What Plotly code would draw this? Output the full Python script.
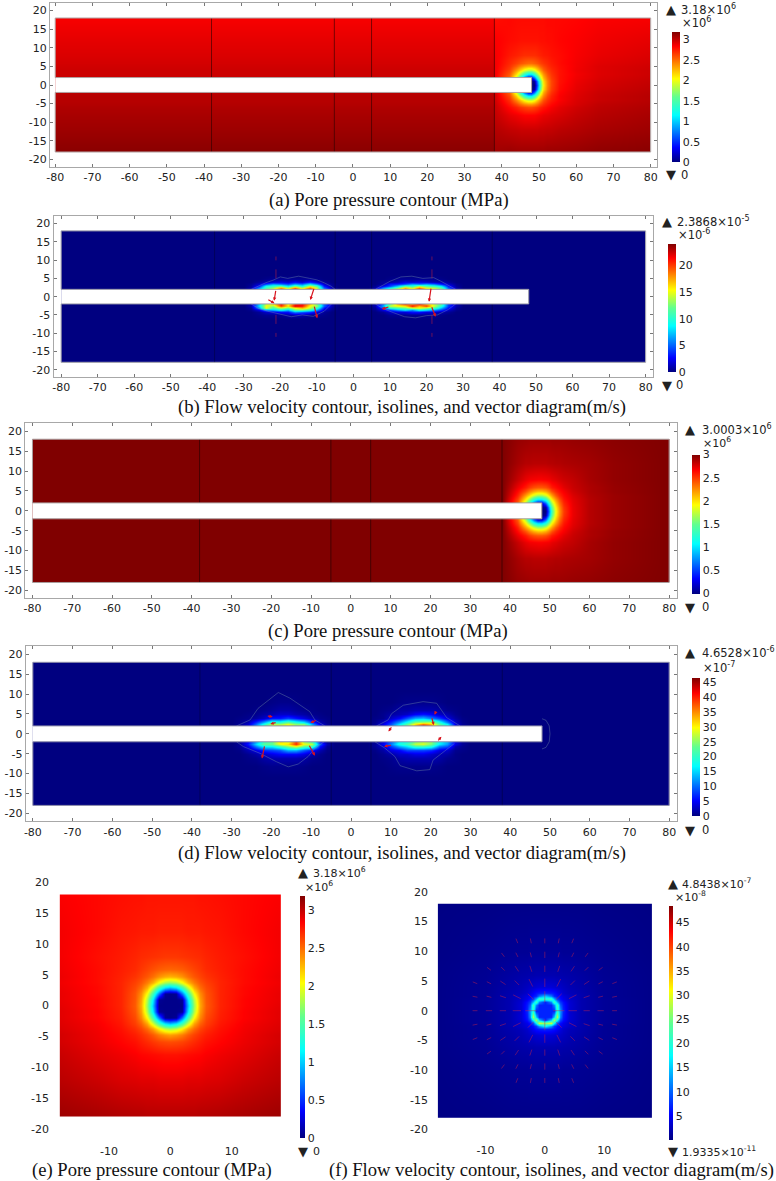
import math
import plotly.graph_objects as go

W, H = 776, 1181
JET = [[0, "#000080"], [0.11, "#0000ff"], [0.36, "#00ffff"], [0.5, "#60ff90"], [0.64, "#ffff00"], [0.89, "#ff0000"], [1, "#800000"]]
TICK = "DejaVu Sans"
SERIF = "Liberation Serif"
CAPTION = 18.6

LONG_X_TICKS = list(range(-80, 81, 10))
LONG_Y_TICKS = list(range(-20, 21, 5))
SQ_X_TICKS = [-10, 0, 10]
JOINTS = [-38, -5, 5, 38]
TUNNEL_END = 48

# (a) pore pressure, 1e6 Pa
A_X = [-80, 38, 38.01, 42, 44, 45, 46, 47, 48, 48.6, 49.4, 50.3, 51.2, 52.2, 53.2, 55.5, 60, 66, 80]
A_Y = [18, 12, 8, 6, 5, 4, 3, 2, 1, 0, -1, -2, -3, -4, -5, -6, -8, -12, -18]
A_Z = [
 [2.85,2.85,2.79,2.81,2.80,2.80,2.80,2.80,2.80,2.80,2.80,2.80,2.80,2.81,2.81,2.81,2.82,2.84,2.85],
 [2.90,2.90,2.84,2.80,2.79,2.78,2.78,2.78,2.78,2.78,2.78,2.79,2.79,2.80,2.80,2.82,2.84,2.87,2.90],
 [2.93,2.93,2.86,2.76,2.73,2.71,2.69,2.69,2.69,2.69,2.71,2.73,2.75,2.76,2.78,2.80,2.85,2.89,2.93],
 [2.95,2.95,2.87,2.71,2.63,2.57,2.53,2.50,2.50,2.53,2.57,2.63,2.67,2.71,2.75,2.80,2.86,2.91,2.95],
 [2.96,2.96,2.87,2.68,2.53,2.41,2.32,2.27,2.27,2.32,2.41,2.53,2.61,2.68,2.73,2.79,2.86,2.92,2.96],
 [2.97,2.97,2.87,2.63,2.35,2.16,1.96,1.84,1.84,1.96,2.16,2.35,2.52,2.63,2.70,2.78,2.87,2.92,2.97],
 [2.97,2.97,2.87,2.56,2.12,1.75,1.35,1.10,1.10,1.35,1.75,2.12,2.37,2.56,2.67,2.78,2.86,2.92,2.97],
 [2.98,2.98,2.88,2.49,1.85,1.24,0.63,0.23,0.23,0.63,1.24,1.85,2.25,2.49,2.64,2.78,2.87,2.93,2.98],
 [2.99,2.99,2.89,2.44,1.59,0.79,0.09,0,0,0.09,0.79,1.59,2.14,2.44,2.62,2.78,2.88,2.94,2.99],
 [3.00,3.00,2.92,2.43,1.50,0.65,0,0,0,0,0.65,1.50,2.10,2.43,2.62,2.79,2.89,2.95,3.00],
 [3.01,3.01,2.93,2.46,1.61,0.81,0.10,0,0,0.10,0.81,1.61,2.16,2.46,2.64,2.80,2.90,2.96,3.01],
 [3.02,3.02,2.95,2.53,1.89,1.28,0.67,0.27,0.27,0.67,1.28,1.89,2.29,2.53,2.68,2.82,2.91,2.97,3.02],
 [3.03,3.03,2.96,2.62,2.18,1.81,1.41,1.16,1.16,1.41,1.81,2.18,2.43,2.62,2.73,2.84,2.92,2.98,3.03],
 [3.03,3.03,2.97,2.69,2.41,2.22,2.02,1.90,1.90,2.02,2.22,2.41,2.58,2.69,2.76,2.84,2.93,2.98,3.03],
 [3.04,3.04,2.98,2.76,2.61,2.49,2.40,2.35,2.35,2.40,2.49,2.61,2.69,2.76,2.81,2.87,2.94,3.00,3.04],
 [3.05,3.05,2.99,2.81,2.73,2.67,2.63,2.60,2.60,2.63,2.67,2.73,2.77,2.81,2.85,2.90,2.96,3.01,3.05],
 [3.07,3.07,3.00,2.90,2.87,2.85,2.83,2.83,2.83,2.83,2.85,2.87,2.89,2.90,2.92,2.94,2.99,3.03,3.07],
 [3.10,3.10,3.04,3.00,2.99,2.98,2.98,2.98,2.98,2.98,2.98,2.99,2.99,3.00,3.00,3.02,3.04,3.07,3.10],
 [3.155,3.155,3.09,3.11,3.10,3.10,3.10,3.10,3.10,3.10,3.10,3.10,3.10,3.11,3.11,3.11,3.12,3.14,3.155],
]

# (c) pore pressure, 1e6 Pa; rows for y >= 0, mirrored below the tunnel
C_X = [-80, 38, 42, 44, 45, 46, 47, 48, 48.8, 49.6, 50.5, 51.4, 52.4, 53.4, 55.6, 60, 66, 80]
C_Y_HALF = [18, 12, 8, 6, 5, 4, 3, 2, 1, 0]
C_Z_HALF = [
 [3,3,2.94,2.93,2.92,2.92,2.92,2.92,2.92,2.92,2.93,2.93,2.93,2.93,2.94,2.95,2.97,3],
 [3,3,2.90,2.86,2.86,2.85,2.85,2.85,2.85,2.86,2.86,2.87,2.87,2.88,2.89,2.91,2.95,3],
 [3,3,2.82,2.73,2.70,2.69,2.68,2.68,2.69,2.70,2.73,2.75,2.78,2.80,2.83,2.90,2.95,3],
 [3,3,2.72,2.59,2.50,2.44,2.41,2.41,2.44,2.50,2.59,2.64,2.69,2.74,2.81,2.88,2.94,3],
 [3,3,2.65,2.43,2.28,2.17,2.10,2.10,2.17,2.28,2.43,2.55,2.63,2.69,2.79,2.88,2.94,3],
 [3,3,2.58,2.20,2.00,1.80,1.67,1.67,1.80,2.00,2.20,2.41,2.56,2.65,2.76,2.87,2.93,3],
 [3,3,2.48,1.95,1.60,1.25,1.03,1.03,1.25,1.60,1.95,2.22,2.45,2.61,2.74,2.86,2.93,3],
 [3,3,2.40,1.67,1.15,0.60,0.20,0.20,0.60,1.15,1.67,2.07,2.36,2.56,2.73,2.86,2.93,3],
 [3,3,2.32,1.45,0.75,0.10,0,0,0.10,0.75,1.45,1.95,2.28,2.52,2.72,2.86,2.93,3],
 [3,3,2.30,1.35,0.60,0,0,0,0,0.60,1.35,1.90,2.25,2.50,2.72,2.86,2.93,3],
]

# (b) flow velocity, 1e-6 m/s
BASE_X = [-80, 80]
BASE_Y = [18, -18]
BASE_Z = [[0, 0], [0, 0]]
B_Y = [6, 5, 4, 3.5, 3, 2.5, 2, -2, -2.5, -3, -3.5, -4, -5, -6]
BL_X = [-30, -28, -26, -24, -22, -20, -18, -16, -14, -12, -10, -8, -6, -4]
BL_Z = [
 [0,0,0,0,0,0,0,0,0,0,0,0,0,0],
 [0,0,0,.2,.4,.4,.4,.4,.4,.4,.2,0,0,0],
 [0,0,.5,1,1.5,2,1.5,2.5,1.5,3,1.5,.5,0,0],
 [0,.3,1.5,4,6,5,4,6,5,8,5,1.5,.3,0],
 [0,.5,3,9,10,11,8,12,9,14,11,3,.5,0],
 [0,1,6,11,13,18,14,19,14,19,14,5,1,0],
 [0,1,7,12,15,20,16,21,17,21,15,6,1,0],
 [0,1,7,14,16,21,15,20,21,17,12,5,1,0],
 [0,1,8,15,13,20,16,22,21,15,13,5,1,0],
 [0,.5,6,15,11,14,12,15,17,14,10,3,.5,0],
 [0,.3,2,6,7,9,7,12,12,10,6,1.5,.3,0],
 [0,0,.5,1.5,2,3,3,6,5,4,2,.5,0,0],
 [0,0,.2,.4,.4,.4,.8,1,1,.4,.4,.2,0,0],
 [0,0,0,0,0,0,0,0,0,0,0,0,0,0],
]
BR_X = [4, 6, 8, 10, 12, 14, 16, 18, 20, 22, 24, 26, 28, 30]
BR_Z = [
 [0,0,0,0,0,0,0,0,0,0,0,0,0,0],
 [0,0,0,.2,.4,.4,.4,.4,.4,.4,.2,0,0,0],
 [0,0,.5,.5,1,2,1.5,2,1.5,1,1,.5,0,0],
 [0,0,.5,3,3,4,6,5,6,5,3,1.5,.3,0],
 [0,.3,2,4,7,11,10,13,11,10,8,3,.5,0],
 [0,1,6,9,12,17,14,19,15,14,12,5,1,0],
 [0,1,7,12,17,20,17,21,18,15,11,5,1,0],
 [0,1,5,12,17,20,18,21,17,14,11,4,1,0],
 [0,1,7,14,15,16,21,17,20,14,10,4,1,0],
 [0,.5,4,10,11,12,14,15,13,11,7,3,.5,0],
 [0,.3,2,4,6,8,6,9,8,6,4,1.5,.3,0],
 [0,0,.5,1.5,2,2,3,3,2,2,1,.5,0,0],
 [0,0,0,.4,.4,.4,.4,.4,.4,.4,.2,0,0,0],
 [0,0,0,0,0,0,0,0,0,0,0,0,0,0],
]
B_ISO_X = [-28,-26,-24,-22,-20,-18,-15,-12,-10,-8,-6,-5,None,-28,-26,-23,-20,-17,-14,-11,-8,-6,None,
           6,8,10,13,16,19,22,24,26,28,None,6,8,11,14,17,20,23,26,28]
B_ISO_Y = [2,3,3.8,4.5,5.4,5,5.6,5,4.6,3.8,2.8,2,None,-2,-3.2,-4.1,-4.8,-5.5,-5,-5.4,-4,-2,None,
           2,3,4.2,5.4,5.6,5,5.2,4.2,3.2,2,None,-2,-3.2,-4.4,-5.5,-5.8,-5.2,-5,-3.5,-2]
B_ARROWS = [(-21.2,2.0,-21.7,-1.1),(-10.7,2.5,-11.8,-0.9),(-23.7,-0.6,-21.6,-1.8),(-10.8,-2.3,-9.9,-5.9),
            (21.3,2.6,20.7,-1.4),(21.3,-2.5,22.5,-5.5),(10,-2.7,7.8,-3.4)]
B_DASH_X = [-21.2,-21.2,None,-21.2,-21.2,None,21.5,21.5,None,21.5,21.5]
B_DASH_Y = [5,11,None,-5,-11,None,5,11,None,-5,-11]

# (d) flow velocity, 1e-7 m/s
D_Y = [11, 8, 6, 5, 4, 3, 2.5, 2, -2, -2.5, -3, -4, -5, -6, -8, -11]
DL_X = [-30, -28, -26, -24, -22, -20, -18, -16, -14, -12, -10, -8, -6, -4]
DL_Z = [
 [0,0,0,0,0,0,0,0,0,0,0,0,0,0],
 [0,0,0,0,0,.3,.5,.5,.3,0,0,0,0,0],
 [0,0,0,.3,.6,1,1.5,1.5,1,.6,.3,0,0,0],
 [0,0,.3,.6,1.5,2,3,3,2,1.5,.6,.3,0,0],
 [0,.3,.6,1.5,3,6,6,8,6,4,2,.6,.3,0],
 [0,.6,2,7,13,20,19,23,19,16,8,2,.6,0],
 [0,1,3,10,19,27,26,29,25,25,13,4,1,0],
 [0,1,4,12,21,29,29,30,26,27,15,5,1,0],
 [0,1,5,13,21,23,31,29,39,27,23,7,1,0],
 [0,1,6,15,23,23,29,31,39,29,27,9,2,0],
 [0,1,4,11,17,17,21,25,29,23,21,6,1,0],
 [0,.3,2,4,7,8,9,13,13,9,6,2,.3,0],
 [0,0,.6,1.5,3,4,5,5,5,4,2,.6,0,0],
 [0,0,.3,.6,1.5,2,2,2,2,1.5,.6,.3,0,0],
 [0,0,0,0,.3,.5,.5,.5,.5,.3,0,0,0,0],
 [0,0,0,0,0,0,0,0,0,0,0,0,0,0],
]
DR_X = [4, 6, 8, 10, 12, 14, 16, 18, 20, 22, 24, 26, 28, 30]
DR_Z = [
 [0,0,0,0,0,0,0,0,0,0,0,0,0,0],
 [0,0,0,0,.3,.5,.5,.5,.5,.3,0,0,0,0],
 [0,0,.3,.6,1.5,1.5,2,2,2,1.5,.6,.3,0,0],
 [0,0,.6,1.5,2,3,5,6,5,3,2,.6,0,0],
 [0,.3,.6,3,5,9,13,14,11,8,4,1.5,.3,0],
 [0,.6,3,7,12,18,25,26,27,19,11,3,.6,0],
 [0,1,4,9,16,23,31,37,33,23,17,4,1,0],
 [0,1,4,10,19,25,33,39,35,25,19,5,1,0],
 [0,1,4,10,17,19,25,27,25,17,13,4,1,0],
 [0,1,5,11,18,21,27,28,24,16,12,4,1,0],
 [0,1,3,8,13,16,21,21,19,11,9,2,.6,0],
 [0,.3,1.5,4,5,8,8,8,7,4,3,.6,.3,0],
 [0,0,.6,1.5,3,3,4,4,3,2,1.5,.3,0,0],
 [0,0,.3,.6,1.5,2,2,2,2,1.5,.6,.3,0,0],
 [0,0,0,.3,.5,.5,.5,.5,.5,.3,0,0,0,0],
 [0,0,0,0,0,0,0,0,0,0,0,0,0,0],
]
D_ISO_X = [-28.8,-25.4,-23.4,-20,-18.3,-15.4,-12.9,-10.4,-9.1,-6.6,None,
           -28.8,-27.1,-22.9,-18.8,-15.8,-13.3,-10.8,-9.1,-6.8,None,
           6.4,9.3,10.2,13.1,18.1,21.5,24,27.4,None,
           6,8.5,11,12.3,16.5,19.8,20.6,22.3,26,None,
           48,49,49.8,50,49.8,49,48]
D_ISO_Y = [2,3.5,6.4,9,10.4,9,7.2,5.6,3.5,2,None,
           -2,-3.2,-4.9,-7,-8.3,-7.6,-5.7,-3.6,-2,None,
           2,3.5,5.1,7.2,8.1,7.7,4.1,2,None,
           -2,-3.6,-5.7,-8,-9.3,-9,-6.6,-5.3,-2.4,None,
           3.8,3.4,2,0,-2,-3.4,-3.8]
D_ARROWS = [(-21.7,-2.8,-22.4,-6.2),(-10.7,-2.6,-9.1,-5.5),(-8.5,3.5,-10.2,2.8),(-21.3,4.5,-19.7,4.3),
            (-18.6,2.9,-20.3,2.5),(10.4,2.0,9.4,0.6),(21.6,-2.0,22.7,-0.7),(10.4,-2.8,8.3,-3.2),
            (20.2,4.3,20.8,2.2),(21.5,6.0,21.0,4.8)]

# (e) pore pressure, 1e6 Pa; columns for x >= 0, mirrored to the left
E_X_HALF = [0, 0.95, 1.9, 2.85, 3.8, 4.75, 5.8, 8, 12, 18]
E_Y = [18, 12, 8, 5.8, 4.75, 3.8, 2.85, 1.9, 0.95, 0, -0.95, -1.9, -2.85, -3.8, -4.75, -5.8, -8, -12, -18]
E_Z_HALF = [
 [2.77,2.77,2.77,2.77,2.77,2.78,2.78,2.79,2.81,2.84],
 [2.74,2.74,2.74,2.75,2.75,2.75,2.76,2.77,2.81,2.86],
 [2.66,2.66,2.67,2.68,2.69,2.70,2.72,2.75,2.79,2.86],
 [2.51,2.52,2.54,2.58,2.62,2.66,2.70,2.74,2.80,2.87],
 [2.27,2.30,2.37,2.48,2.56,2.62,2.67,2.73,2.80,2.88],
 [1.72,1.79,2.00,2.27,2.44,2.56,2.63,2.72,2.80,2.87],
 [0.93,1.06,1.41,1.88,2.28,2.49,2.60,2.72,2.81,2.88],
 [0.03,0.06,0.70,1.42,2.02,2.39,2.57,2.72,2.81,2.89],
 [0.03,0.03,0.06,1.08,1.82,2.33,2.56,2.72,2.82,2.89],
 [0.03,0.03,0.03,0.95,1.75,2.30,2.55,2.72,2.82,2.90],
 [0.03,0.03,0.06,1.08,1.82,2.34,2.57,2.73,2.83,2.91],
 [0.03,0.06,0.70,1.44,2.04,2.41,2.60,2.74,2.83,2.91],
 [0.96,1.10,1.45,1.92,2.32,2.53,2.64,2.76,2.85,2.92],
 [1.78,1.85,2.06,2.33,2.50,2.62,2.69,2.78,2.86,2.93],
 [2.33,2.37,2.44,2.55,2.63,2.69,2.74,2.80,2.87,2.95],
 [2.59,2.60,2.62,2.66,2.70,2.74,2.78,2.82,2.88,2.95],
 [2.78,2.78,2.79,2.80,2.81,2.82,2.84,2.87,2.91,2.98],
 [2.90,2.90,2.90,2.91,2.91,2.91,2.92,2.93,2.97,3.02],
 [3.03,3.03,3.03,3.03,3.03,3.04,3.04,3.05,3.07,3.10],
]

# (f) flow velocity, 1e-8 m/s; columns for x >= 0, mirrored to the left
F_X_HALF = [0, 1, 1.5, 2, 2.5, 3, 4, 6, 10, 18]
F_Y = [18, 10, 6, 4, 3, 2.5, 2, 1.5, 1, 0, -1, -1.5, -2, -2.5, -3, -4, -6, -10, -18]
F_Z_HALF = [
 [.4,.4,.4,.4,.4,.4,.4,.4,.3,.2],
 [1,1,1,1,1,.9,.9,.8,.6,.3],
 [2,2,2,1.9,1.9,1.8,1.7,1.4,.8,.4],
 [3.8,3.7,3.5,3.2,3,2.7,2.2,1.7,.9,.4],
 [7,6.5,6,5,4,3.2,2.5,1.9,.9,.4],
 [15,11,7,6,5,4,3,2,.9,.4],
 [20,22,14,8,6,4.5,3.2,2,1,.4],
 [7,12,22,14,8,6,3.5,2,1,.4],
 [7,7,12,22,10,6.5,3.6,2,1,.4],
 [7,7,7,20,13,7,3.5,2,1,.4],
 [7,7,15,28,12,6.5,3.6,2,1,.4],
 [7,15,28,18,9,6,3.5,2,1,.4],
 [26,30,18,9,6,4.5,3.2,2,1,.4],
 [18,13,8,6,5,4,3,2,.9,.4],
 [7,6.5,6,5,4,3.2,2.5,1.9,.9,.4],
 [3.8,3.7,3.5,3.2,3,2.7,2.2,1.7,.9,.4],
 [2,2,2,1.9,1.9,1.8,1.7,1.4,.8,.4],
 [1,1,1,1,1,.9,.9,.8,.6,.3],
 [.4,.4,.4,.4,.4,.4,.4,.4,.3,.2],
]
F_VEC_GRID = [-14.1,-11.75,-9.4,-7.05,-4.7,-2.35,0,2.35,4.7,7.05,9.4,11.75,14.1]


def pad(xs, ys, rows):
    """Ascending axes, with hair-thin outer cells so the field stops at its outer nodes."""
    ys_up = list(ys)[::-1]
    rows_up = [list(r) for r in rows][::-1]
    e = 1e-3
    nx = [xs[0], xs[0] + e] + list(xs[1:-1]) + [xs[-1] - e, xs[-1]]
    ny = [ys_up[0], ys_up[0] + e] + ys_up[1:-1] + [ys_up[-1] - e, ys_up[-1]]
    out = []
    for r in [rows_up[0]] + rows_up + [rows_up[-1]]:
        out.append([r[0]] + r + [r[-1]])
    return nx, ny, out


def mirror_cols(xs, rows):
    return [-v for v in xs[:0:-1]] + list(xs), [list(r[:0:-1]) + list(r) for r in rows]


fig = go.Figure()
shapes, annos = [], []


def px_text(text, x, y, size=11, family=TICK, anchor="left", color="#222222"):
    annos.append(dict(text=text, x=x / W, y=1 - y / H, xref="paper", yref="paper", xanchor=anchor, yanchor="middle",
                      showarrow=False, font=dict(family=family, size=size, color=color)))


def axes(i, rect, xr, yr, xticks, yticks, framed=True):
    l, t, r, b = rect
    s = "" if i == 1 else str(i)
    common = dict(showgrid=False, zeroline=False, tickfont=dict(family=TICK, size=11, color="#222222"))
    if framed:
        common.update(showline=True, linecolor="#a8a8a8", linewidth=1, mirror="ticks", ticks="inside", ticklen=3,
                      tickcolor="#777777", tickwidth=1)
    else:
        common.update(showline=False, ticks="")
    fig.update_layout({
        "xaxis" + s: dict(domain=[l / W, r / W], range=xr, anchor="y" + s, tickvals=xticks,
                          ticktext=[str(v) for v in xticks], **common),
        "yaxis" + s: dict(domain=[1 - b / H, 1 - t / H], range=yr, anchor="x" + s, tickvals=yticks,
                          ticktext=[str(v) for v in yticks], **common),
    })


def heat(i, xs, ys, rows, zmax, bar=None):
    nx, ny, nz = pad(xs, ys, rows)
    s = "" if i == 1 else str(i)
    t = dict(x=nx, y=ny, z=nz, zmin=0, zmax=zmax, colorscale=JET, zsmooth="best", xaxis="x" + s, yaxis="y" + s,
             hoverinfo="skip", showscale=bar is not None)
    if bar:
        l, top, r, bottom, ticks = bar
        t["colorbar"] = dict(x=l / W, xanchor="left", xref="paper", xpad=0, ypad=0, thickness=r - l, thicknessmode="pixels",
                             y=1 - (top + bottom) / 2 / H, yanchor="middle", yref="paper", len=bottom - top, lenmode="pixels",
                             outlinewidth=0, borderwidth=0, ticks="", tickvals=ticks, ticktext=[str(v) for v in ticks],
                             tickfont=dict(family=TICK, size=11, color="#222222"))
    fig.add_trace(go.Heatmap(**t))


def joints(i, color):
    s = "" if i == 1 else str(i)
    xs, ys = [], []
    for j in JOINTS:
        xs += [j, j, None, j, j, None]
        ys += [18, 2, None, -2, -18, None]
    fig.add_trace(go.Scatter(x=xs, y=ys, mode="lines", line=dict(color=color, width=0.7), xaxis="x" + s, yaxis="y" + s,
                             hoverinfo="skip", showlegend=False))


def tunnel(i, edge):
    s = "" if i == 1 else str(i)
    shapes.append(dict(type="rect", xref="x" + s, yref="y" + s, x0=-80, x1=TUNNEL_END, y0=-2, y1=2, fillcolor="white",
                       line_width=0, layer="above"))
    path = f"M -80 2 L -80 18 L 80 18 L 80 -18 L -80 -18 L -80 -2 L {TUNNEL_END} -2 L {TUNNEL_END} 2 Z"
    shapes.append(dict(type="path", path=path, xref="x" + s, yref="y" + s, line=dict(color=edge, width=1), layer="above"))


def iso(i, xs, ys, color="rgba(120,150,170,0.65)", width=0.6, dash="solid"):
    s = "" if i == 1 else str(i)
    fig.add_trace(go.Scatter(x=xs, y=ys, mode="lines", line=dict(color=color, width=width, dash=dash), xaxis="x" + s,
                             yaxis="y" + s, hoverinfo="skip", showlegend=False))


def arrows(i, items):
    s = "" if i == 1 else str(i)
    for x0, y0, x1, y1 in items:
        annos.append(dict(x=x1, y=y1, ax=x0, ay=y0, xref="x" + s, yref="y" + s, axref="x" + s, ayref="y" + s, text="",
                          showarrow=True, arrowhead=2, arrowsize=0.55, arrowwidth=1.2, arrowcolor="#d8141e"))


# (a)
axes(1, (50, 3.3, 657, 166.7), [-81.4, 81.7], [-21.96, 21.96], LONG_X_TICKS, LONG_Y_TICKS)
heat(1, A_X, A_Y, A_Z, 3.18, (671.7, 32, 680, 162.3, [0, 0.5, 1, 1.5, 2, 2.5, 3]))
joints(1, "rgba(40,0,0,0.85)")
tunnel(1, "#b0a0a0")
px_text("▲", 664, 9, 13); px_text("3.18×10<sup>6</sup>", 679, 9, 11.5)
px_text("×10<sup>6</sup>", 680, 22, 11.5)
px_text("▼", 664, 175, 13); px_text("0", 679, 175, 11.5)
px_text("(a) Pore pressure contour (MPa)", 388.5, 200, CAPTION, SERIF, "center", "#111111")

# (b)
axes(2, (53.5, 216.3, 653.3, 377), [-82.1, 82.1], [-22, 22], LONG_X_TICKS, LONG_Y_TICKS)
heat(2, BASE_X, BASE_Y, BASE_Z, 23.868, (667.7, 244.3, 675.7, 372.3, [0, 5, 10, 15, 20]))
heat(2, BL_X, B_Y, BL_Z, 23.868)
heat(2, BR_X, B_Y, BR_Z, 23.868)
joints(2, "rgba(0,0,50,0.7)")
iso(2, B_ISO_X, B_ISO_Y)
iso(2, B_DASH_X, B_DASH_Y, "rgba(190,30,60,0.7)", 0.8, "dash")
arrows(2, B_ARROWS)
tunnel(2, "#9a9aa8")
px_text("▲", 660, 221, 13); px_text("2.3868×10<sup>-5</sup>", 674.7, 221, 11.5)
px_text("×10<sup>-6</sup>", 675.5, 234, 11.5)
px_text("▼", 660, 385.3, 13); px_text("0", 674, 385.3, 11.5)
px_text("(b) Flow velocity contour, isolines, and vector diagram(m/s)", 402, 407, CAPTION, SERIF, "center", "#111111")

# (c)
axes(3, (25.3, 423.3, 676.7, 598), [-81.8, 81.9], [-21.9, 22], LONG_X_TICKS, LONG_Y_TICKS)
C_Y = C_Y_HALF + [-v for v in C_Y_HALF[-2::-1]]
C_Z = C_Z_HALF + C_Z_HALF[-2::-1]
heat(3, C_X, C_Y, C_Z, 3.0003, (692.3, 454.7, 700.7, 593.3, [0, 0.5, 1, 1.5, 2, 2.5, 3]))
joints(3, "rgba(30,0,0,0.85)")
tunnel(3, "#a89c9c")
px_text("▲", 683.3, 429, 13); px_text("3.0003×10<sup>6</sup>", 700, 429, 11.5)
px_text("×10<sup>6</sup>", 700.5, 442, 11)
px_text("▼", 683.3, 607, 13); px_text("0", 700, 607, 11.5)
px_text("(c) Pore pressure contour (MPa)", 388, 631, CAPTION, SERIF, "center", "#111111")

# (d)
axes(4, (25.7, 646, 676.7, 821.3), [-81.8, 81.85], [-22, 22.1], LONG_X_TICKS, LONG_Y_TICKS)
heat(4, BASE_X, BASE_Y, BASE_Z, 46.528, (692.3, 677.7, 700.7, 816, [0, 5, 10, 15, 20, 25, 30, 35, 40, 45]))
heat(4, DL_X, D_Y, DL_Z, 46.528)
heat(4, DR_X, D_Y, DR_Z, 46.528)
joints(4, "rgba(0,0,50,0.7)")
iso(4, D_ISO_X, D_ISO_Y)
arrows(4, D_ARROWS)
tunnel(4, "#8a8aa8")
px_text("▲", 683, 652.7, 13); px_text("4.6528×10<sup>-6</sup>", 700, 652.7, 11.5)
px_text("×10<sup>-7</sup>", 700.5, 667.3, 11.5)
px_text("▼", 683, 830.3, 13); px_text("0", 700, 830.3, 11.5)
px_text("(d) Flow velocity contour, isolines, and vector diagram(m/s)", 402, 853, CAPTION, SERIF, "center", "#111111")

# (e)
axes(5, (50, 868, 290, 1143), [-19.6, 19.5], [-22.3, 22.3], SQ_X_TICKS, LONG_Y_TICKS, framed=False)
ex, ez = mirror_cols(E_X_HALF, E_Z_HALF)
heat(5, ex, E_Y, ez, 3.18, (299.5, 896, 304, 1138, [0, 0.5, 1, 1.5, 2, 2.5, 3]))
px_text("▲", 296, 872, 13); px_text("3.18×10<sup>6</sup>", 311, 872, 11)
px_text("×10<sup>6</sup>", 303, 886, 11)
px_text("▼", 296, 1151, 13); px_text("0", 311, 1151, 11)
px_text("(e) Pore pressure contour (MPa)", 151.5, 1170, CAPTION, SERIF, "center", "#111111")

# (f)
axes(6, (429, 880, 660, 1142), [-19.5, 19.4], [-22.1, 22], SQ_X_TICKS, LONG_Y_TICKS, framed=False)
fx, fz = mirror_cols(F_X_HALF, F_Z_HALF)
heat(6, fx, F_Y, fz, 48.438, (669, 906, 673, 1140, [5, 10, 15, 20, 25, 30, 35, 40, 45]))
vx, vy, va, vs = [], [], [], []
for gy in F_VEC_GRID:
    for gx in F_VEC_GRID:
        r2 = gx * gx + gy * gy
        if 0 < r2 < 170:
            vx.append(gx); vy.append(gy)
            va.append(math.degrees(math.atan2(gx, gy)))
            vs.append(8 if r2 < 10 else 6 if r2 < 30 else 4.5 if r2 < 90 else 3.5)
fig.add_trace(go.Scatter(x=vx, y=vy, mode="markers", xaxis="x6", yaxis="y6", hoverinfo="skip", showlegend=False,
                         marker=dict(symbol="line-ns", size=vs, angle=va, color="rgba(205,35,70,0.65)",
                                     line=dict(color="rgba(205,35,70,0.65)", width=1))))
px_text("▲", 666, 883, 13); px_text("4.8438×10<sup>-7</sup>", 680, 883, 11)
px_text("×10<sup>-8</sup>", 673, 896, 11)
px_text("▼", 666, 1151, 13); px_text("1.9335×10<sup>-11</sup>", 680, 1151, 11)
px_text("(f) Flow velocity contour, isolines, and vector diagram(m/s)", 551, 1170, CAPTION, SERIF, "center", "#111111")

fig.update_layout(width=W, height=H, autosize=False, margin=dict(l=0, r=0, t=0, b=0, autoexpand=False),
                  paper_bgcolor="white", plot_bgcolor="white", showlegend=False, shapes=shapes, annotations=annos)
fig.write_html("out.html", config={"displayModeBar": False},
               post_script="document.body.style.margin='0';document.documentElement.style.overflow='hidden';")
